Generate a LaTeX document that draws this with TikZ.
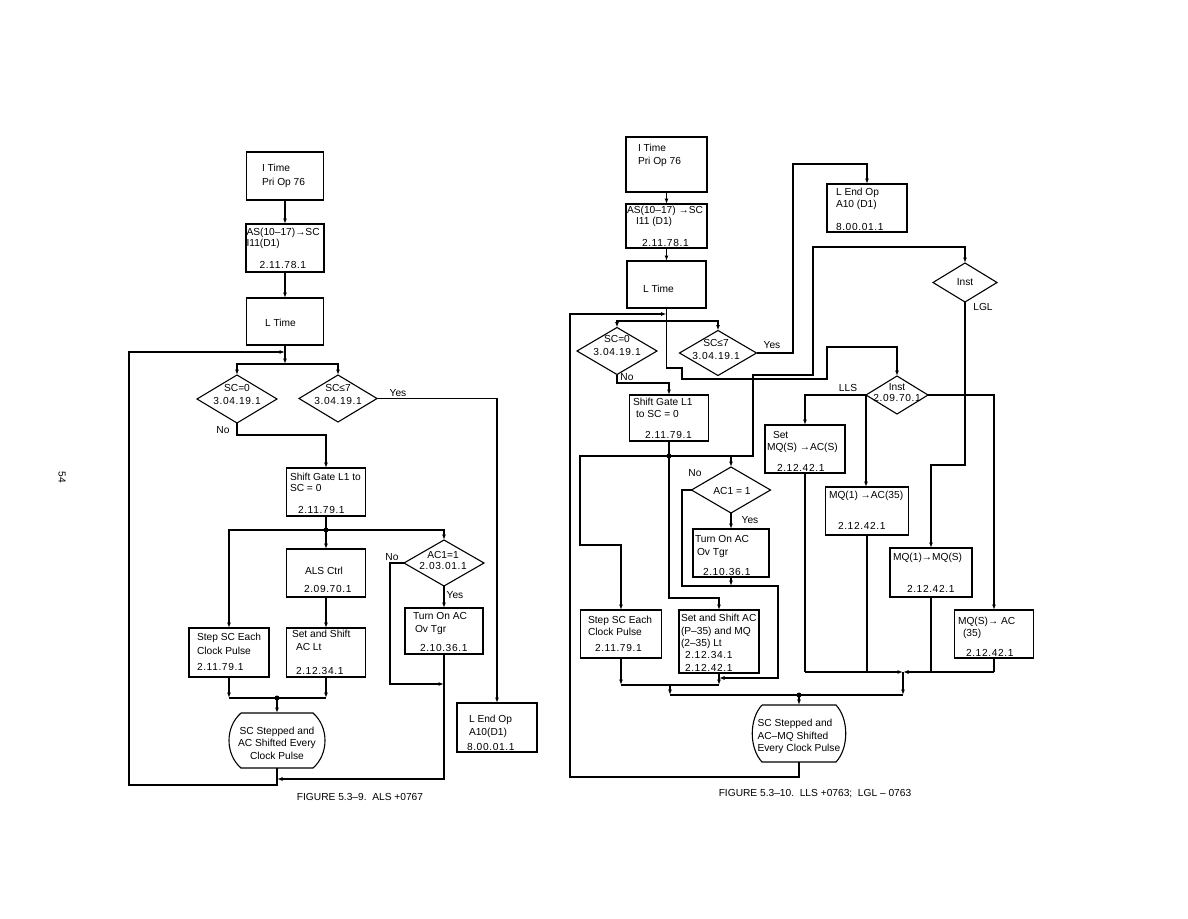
\documentclass[tikz,border=0pt]{standalone}
\usepackage{fontspec}
\setmainfont{Liberation Sans}
\newfontfamily\numfnt[LetterSpace=6]{Liberation Sans}
\newcommand\rnum[1]{{\numfnt #1}}
\usetikzlibrary{arrows.meta,shapes.geometric}
\begin{document}
\begin{tikzpicture}[x=1pt,y=-1pt,
  every node/.style={inner sep=0pt, outer sep=0pt},
  line/.style={line width=1.1pt},
  arr/.style={line width=1.1pt,-{Latex[length=5.5pt,width=4pt]}},
  bx/.style={draw, line width=1.1pt, rectangle},
  dia/.style={draw, line width=1.1pt, diamond},
  tx/.style={anchor=north west, align=left, font=\fontsize{10.2}{12.5}\selectfont},
  tc/.style={anchor=north, align=center, font=\fontsize{10.2}{12.5}\selectfont},
  lb/.style={font=\fontsize{10.2}{12}\selectfont}
]
\fill[white] (0,0) rectangle (1188,918);
\useasboundingbox (0,0) rectangle (1188,918);

% ================= LEFT FIGURE =================
\node[bx, minimum width=77pt, minimum height=48pt] (L1) at (285,176) {};
\node[tx] (L1t) at (262,164.4) {I Time\\[1.5pt]Pri Op 76};
\node[bx, minimum width=78pt, minimum height=48pt] (L2) at (285,248) {};
\node[tx] (L2t) at (246.5,228.4) {AS(10–17)→SC\\[-1.5pt]I11(D1)\\[9.5pt]\hspace*{13pt}\rnum{2.11.78.1}};
\node[bx, minimum width=77pt, minimum height=47pt] (L3) at (285,321.5) {};
\node[tx] (L3t) at (265,319.4) {L Time};

\node[dia, minimum width=80pt, minimum height=48pt] (D1) at (237,399) {};
\node[tc] (D1t) at (237,384.4) {SC=0\\[0.5pt]\rnum{3.04.19.1}};
\node[dia, minimum width=78pt, minimum height=47pt] (D2) at (338,398.5) {};
\node[tc] (D2t) at (338,384.4) {SC≤7\\[0.5pt]\rnum{3.04.19.1}};

\node[bx, minimum width=79pt, minimum height=48pt] (L4) at (326,492) {};
\node[tx] (L4t) at (290,473.4) {Shift Gate L1 to\\[-1.5pt]SC = 0\\[9.5pt]\hspace*{8pt}\rnum{2.11.79.1}};
\node[bx, minimum width=79pt, minimum height=48pt] (L5) at (326,573) {};
\node[tx] (L5t) at (304,567.4) {\hspace*{1pt}ALS Ctrl\\[5.5pt]\rnum{2.09.70.1}};
\node[bx, minimum width=79pt, minimum height=49pt] (L6) at (326,652.5) {};
\node[tx] (L6t) at (292,630.4) {Set and Shift\\[0.5pt]\hspace*{4pt}AC Lt\\[11.5pt]\hspace*{4pt}\rnum{2.12.34.1}};
\node[bx, minimum width=80pt, minimum height=49pt] (L7) at (229,652.5) {};
\node[tx] (L7t) at (197,633.4) {Step SC Each\\[1.5pt]Clock Pulse\\[3.5pt]\rnum{2.11.79.1}};
\node[dia, minimum width=80pt, minimum height=46pt] (D3) at (444,563) {};
\node[tc] (D3t) at (443,551.4) {AC1=1\\[-1.5pt]\rnum{2.03.01.1}};
\node[bx, minimum width=78pt, minimum height=46pt] (L8) at (444,631) {};
\node[tx] (L8t) at (413,612.4) {Turn On AC\\[0.5pt]\hspace*{2pt}Ov Tgr\\[6.5pt]\hspace*{7pt}\rnum{2.10.36.1}};
\node[bx, minimum width=80pt, minimum height=49pt] (L9) at (497,727.5) {};
\node[tx] (L9t) at (467,715.4) {\hspace*{2pt}L End Op\\[0.5pt]\hspace*{2pt}A10(D1)\\[2.5pt]\rnum{8.00.01.1}};

\node[minimum width=72pt, minimum height=55pt] (T1) at (277,740.5) {};
\draw[line] (T1.north west) -- (T1.north east) .. controls +(16,14) and +(16,-14) .. (T1.south east) -- (T1.south west) .. controls +(-16,-14) and +(-16,14) .. (T1.north west);
\node[tc] (T1t) at (277,727.4) {SC Stepped and\\[-0.5pt]AC Shifted Every\\[0.5pt]Clock Pulse};

\node[lb] (yL) at (398,393) {Yes};
\node[lb] (nL) at (223,430) {No};
\node[lb] (nL2) at (392,557) {No};
\node[lb] (yL2) at (455,595) {Yes};
\node[lb] (capL) at (360,797) {FIGURE 5.3–9.\ \ ALS +0767};
\node[lb, rotate=-90] (pg) at (62,477) {54};

\coordinate (jL) at (285,364);
\coordinate (fbL) at (285,352);
\draw[arr] (L1.south) -- (L2.north);
\draw[arr] (L2.south) -- (L3.north);
\draw[arr] (L3.south) -- (jL);
\draw[arr] (jL) -| (D1.north);
\draw[arr] (jL) -| (D2.north);
\draw[arr] (T1.south) -- (277,785) -| (129,352) -- (fbL);
\draw[arr] (D2.east) -| (L9.north);
\draw[arr] (D1.south) -- (237,435) -| (L4.north);
\coordinate (jL2) at (326,530);
\draw[line] (L4.south) -- (jL2);
\draw[arr] (jL2) -| (L7.north);
\draw[arr] (jL2) -- (L5.north);
\draw[arr] (jL2) -| (D3.north);
\draw[arr] (L5.south) -- (L6.north);
\draw[arr] (D3.south) -- (L8.north);
\coordinate (cL) at (444,684);
\draw[arr] (D3.west) -- (390,563) |- (cL);
\coordinate (mL) at (277,779);
\draw[arr] (L8.south) |- (mL);
\coordinate (jL3) at (277,698);
\draw[arr] (L7.south) -- (L7.south |- jL3);
\draw[arr] (L6.south) -- (L6.south |- jL3);
\draw[line] (L7.south |- jL3) -- (L6.south |- jL3);
\draw[arr] (jL3) -- (T1.north);
\fill (jL2) circle (2.5pt);
\fill (jL3) circle (2.5pt);

% ================= RIGHT FIGURE =================
\node[bx, minimum width=81pt, minimum height=55pt] (R1) at (666.5,164.5) {};
\node[tx] (R1t) at (638,144.4) {I Time\\[0.5pt]Pri Op 76};
\node[bx, minimum width=81pt, minimum height=44pt] (R2) at (666.5,226) {};
\node[tx] (R2t) at (627,206.4) {AS(10–17) →SC\\[-1.5pt]\hspace*{9pt}I11 (D1)\\[9.5pt]\hspace*{15pt}\rnum{2.11.78.1}};
\node[bx, minimum width=79pt, minimum height=47pt] (R3) at (666.5,284.5) {};
\node[tx] (R3t) at (643,285.4) {L Time};
\node[dia, minimum width=80pt, minimum height=47pt] (RD1) at (617,351) {};
\node[tc] (RD1t) at (617,335.4) {SC=0\\[0.5pt]\rnum{3.04.19.1}};
\node[dia, minimum width=77pt, minimum height=45pt] (RD2) at (718,353) {};
\node[tc] (RD2t) at (716,339.4) {SC≤7\\[0.5pt]\rnum{3.04.19.1}};
\node[bx, minimum width=80pt, minimum height=48pt] (R12) at (867,208) {};
\node[tx] (R12t) at (836,188.4) {L End Op\\[-0.5pt]A10 (D1)\\[10.5pt]\rnum{8.00.01.1}};
\node[dia, minimum width=64pt, minimum height=39pt] (RDI1) at (965,282.5) {};
\node[tc] (RDI1t) at (965,278.4) {Inst};
\node[dia, minimum width=62pt, minimum height=38pt] (RDI2) at (897,395) {};
\node[tc] (RDI2t) at (897,383.4) {Inst\\[-1.5pt]\rnum{2.09.70.1}};
\node[bx, minimum width=79pt, minimum height=46pt] (R4) at (669,418) {};
\node[tx] (R4t) at (633,398.4) {Shift Gate L1\\[-0.5pt]\hspace*{3pt}to SC = 0\\[8.5pt]\hspace*{12pt}\rnum{2.11.79.1}};
\node[dia, minimum width=79pt, minimum height=46pt] (RD3) at (731,490) {};
\node[tc] (RD3t) at (732,487.4) {AC1 = 1};
\node[bx, minimum width=76pt, minimum height=48pt] (R5) at (731,553) {};
\node[tx] (R5t) at (695,535.4) {Turn On AC\\[0.5pt]\hspace*{2pt}Ov Tgr\\[7.5pt]\hspace*{8pt}\rnum{2.10.36.1}};
\node[bx, minimum width=80pt, minimum height=63pt] (R6) at (719,641.5) {};
\node[tx] (R6t) at (681,614.4) {Set and Shift AC\\[0.5pt](P–35) and MQ\\[-0.5pt](2–35) Lt\\[-0.5pt]\hspace*{4pt}\rnum{2.12.34.1}\\[0.5pt]\hspace*{4pt}\rnum{2.12.42.1}};
\node[bx, minimum width=81pt, minimum height=48pt] (R7) at (621,634) {};
\node[tx] (R7t) at (588,616.4) {Step SC Each\\[-0.5pt]Clock Pulse\\[3.5pt]\hspace*{7pt}\rnum{2.11.79.1}};
\node[bx, minimum width=80pt, minimum height=48pt] (R8) at (805,449) {};
\node[tx] (R8t) at (767,431.4) {\hspace*{6pt}Set\\[-0.5pt]MQ(S) →AC(S)\\[8.5pt]\hspace*{10pt}\rnum{2.12.42.1}};
\node[bx, minimum width=83pt, minimum height=48pt] (R9) at (867,511) {};
\node[tx] (R9t) at (829,491.4) {MQ(1) →AC(35)\\[18.5pt]\hspace*{9pt}\rnum{2.12.42.1}};
\node[bx, minimum width=82pt, minimum height=49pt] (R10) at (931,572.5) {};
\node[tx] (R10t) at (893,553.4) {MQ(1)→MQ(S)\\[19.5pt]\hspace*{14pt}\rnum{2.12.42.1}};
\node[bx, minimum width=79pt, minimum height=48pt] (R11) at (994,634) {};
\node[tx] (R11t) at (958,617.4) {MQ(S)→ AC\\[-0.5pt]\hspace*{5pt}(35)\\[7.5pt]\hspace*{8pt}\rnum{2.12.42.1}};

\node[minimum width=74pt, minimum height=57pt] (RT) at (799,733.5) {};
\draw[line] (RT.north west) -- (RT.north east) .. controls +(13,14) and +(13,-14) .. (RT.south east) -- (RT.south west) .. controls +(-13,-14) and +(-13,14) .. (RT.north west);
\node[tx] (RTt) at (757.5,719.4) {SC Stepped and\\[0.5pt]AC–MQ Shifted\\[-0.5pt]Every Clock Pulse};

\node[lb] (yR) at (772,345) {Yes};
\node[lb] (nR) at (627,377) {No};
\node[lb] (nR2) at (695,473) {No};
\node[lb] (yR2) at (750,520) {Yes};
\node[lb] (llsR) at (848,388) {LLS};
\node[lb] (lglR) at (983,307) {LGL};
\node[lb] (capR) at (815,794) {FIGURE 5.3–10.\ \ LLS +0763;\ \ LGL – 0763};

\coordinate (jR) at (666.5,321);
\coordinate (fbR) at (666.5,314);
\draw[arr] (R1.south) -- (R2.north);
\draw[arr] (R2.south) -- (R3.north);
\draw[line] (R3.south) -- (jR);
\draw[arr] (jR) -| (RD1.north);
\draw[arr] (jR) -| (RD2.north);
\draw[arr] (RT.south) -- (799,777) -| (570,314) -- (fbR);
\draw[arr] (jR) -- (666.5,368) -- (682,368) -- (682,379) -- (827,379) -- (827,347) -| (RDI2.north);
\draw[arr] (RD1.south) -- (617,383) -| (R4.north);
\draw[arr] (RD2.east) -- (793,353) |- (867,164) -- (R12.north);
\coordinate (jR2) at (669,456);
\draw[line] (R4.south) -- (jR2);
\draw[arr] (jR2) -- (580,456) -- (580,545) -| (R7.north);
\draw[arr] (jR2) -- (669,598) -| (R6.north);
\draw[arr] (jR2) -| (RD3.north);
\draw[arr] (jR2) -- (753,456) -- (753,375) -- (813,375) -- (813,247) -| (RDI1.north);
\draw[arr] (RD3.south) -- (R5.north);
\coordinate (mR1) at (731,586);
\draw[arr] (R5.south) -- (mR1);
\draw[line] (RD3.west) -- (682,490) |- (mR1);
\coordinate (mR2) at (719,678);
\draw[arr] (mR1) -| (778,678) -- (mR2);
\coordinate (mR3) at (670,685);
\draw[arr] (R7.south) -- (R7.south |- mR3);
\draw[arr] (R6.south) -- (R6.south |- mR3);
\draw[line] (R7.south |- mR3) -- (R6.south |- mR3);
\coordinate (mR4) at (670,695);
\draw[arr] (mR3) -- (mR4);
\coordinate (mB) at (903,672);
\coordinate (mB2) at (903,695);
\draw[line] (mR4) -- (mB2);
\coordinate (jR3) at (799,695);
\draw[arr] (jR3) -- (RT.north);
\draw[line] (R8.south) -- (R8.south |- mB);
\draw[arr] (R8.south |- mB) -- (mB);
\draw[line] (R11.south) -- (R11.south |- mB);
\draw[arr] (R11.south |- mB) -- (mB);
\draw[line] (R9.south) -- (R9.south |- mB);
\draw[line] (R10.south) -- (R10.south |- mB);
\draw[arr] (mB) -- (mB2);
\draw[arr] (RDI1.south) -- (965,465) -| (R10.north);
\draw[arr] (RDI2.west) -| (R8.north);
\draw[arr] (RDI2.west) -- (RDI2.west |- R9.north);
\draw[arr] (RDI2.east) -| (R11.north);
\fill (jR2) circle (2.5pt);
\fill (jR3) circle (2.5pt);
\end{tikzpicture}
\end{document}
